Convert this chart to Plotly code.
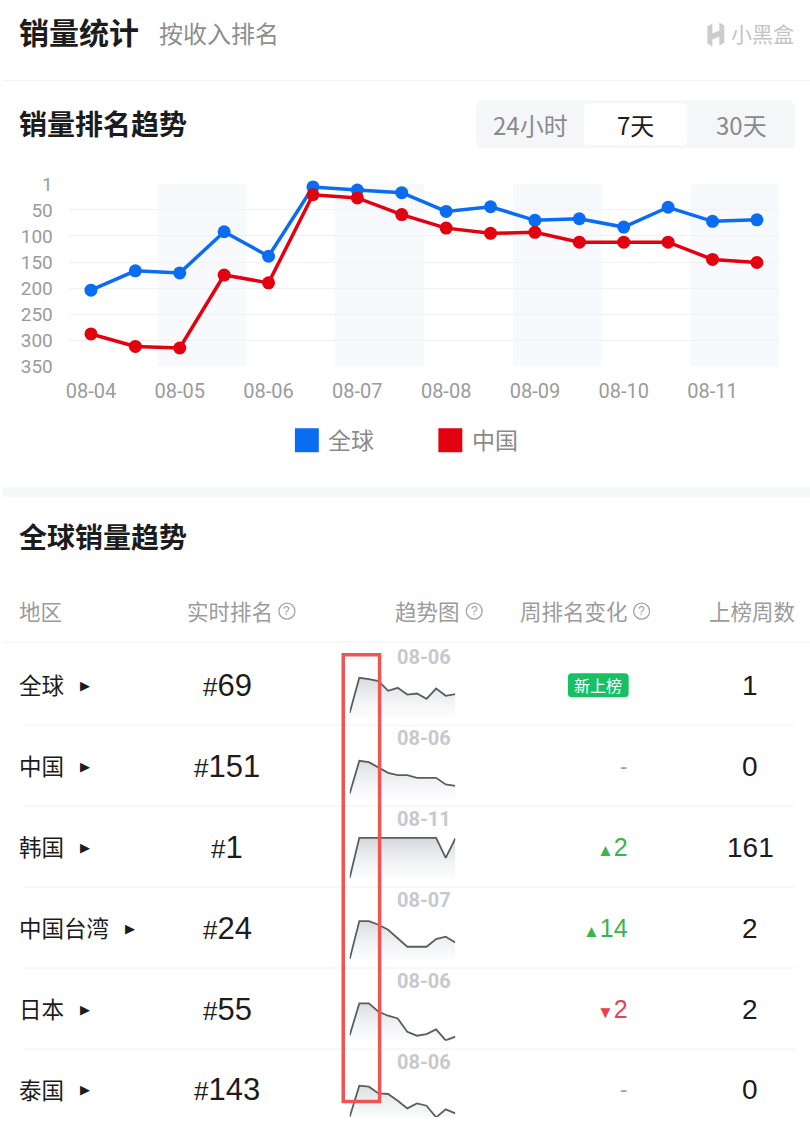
import plotly.graph_objects as go

W, H = 810, 1129
CJK = "Noto Sans CJK SC"
NUM = "Liberation Sans, Arial, sans-serif"
TICK = "Roboto, Noto Sans CJK SC"
BLUE = "#0a6cf0"
RED = "#e3000f"
GREY = "#9b9b9b"
INK = "#1c1c1c"

# ---- 销量排名趋势 (7天, 每半天一个点) ----
slots = [
    "08-04 00时", "08-04 12时", "08-05 00时", "08-05 12时",
    "08-06 00时", "08-06 12时", "08-07 00时", "08-07 12时",
    "08-08 00时", "08-08 12时", "08-09 00时", "08-09 12时",
    "08-10 00时", "08-10 12时", "08-11 00时", "08-11 12时",
]
day_ticks = ["08-04", "08-05", "08-06", "08-07", "08-08", "08-09", "08-10", "08-11"]
global_rank = [204, 167, 171, 92, 139, 6, 12, 17, 53, 44, 70, 67, 83, 45, 72, 69]
china_rank = [288, 312, 315, 175, 190, 21, 27, 59, 85, 95, 93, 112, 112, 112, 145, 151]
rank_ticks = [1, 50, 100, 150, 200, 250, 300, 350]

# ---- 全球销量趋势 表格 ----
regions = ["全球", "中国", "韩国", "中国台湾", "日本", "泰国"]
live_rank = [69, 151, 1, 24, 55, 143]
peak_days = ["08-06", "08-06", "08-11", "08-07", "08-06", "08-06"]
week_change = ["new", None, 2, 14, -2, None]
weeks_listed = [1, 0, 161, 2, 2, 0]

# sparkline heights
trend_global = [4, 39, 37.7, 35.7, 26, 29, 22.3, 23.3, 18, 28.3, 21, 22.7]
trend_china = [4.3, 37, 35.7, 30, 25, 22.7, 22.7, 20, 20, 20, 13.3, 12]
trend_korea = [1, 41, 41, 41, 41, 41, 41, 41, 41, 41, 21, 40.3]
trend_taiwan = [0.7, 38.7, 38.7, 35, 30, 21.5, 13, 13, 13, 20.7, 23, 17.3]
trend_japan = [5.5, 37.3, 37.3, 29, 25, 22.3, 9, 5, 6.7, 11.3, 0.3, 4]
trend_thai = [5, 36, 35, 28.3, 27.7, 21, 13.3, 18.3, 16, 4.3, 12.3, 8.3]
trends = [trend_global, trend_china, trend_korea, trend_taiwan, trend_japan, trend_thai]

# the page photo comes out slightly squeezed vertically; compensate
Y_OFF, Y_SCALE = 10.6, 0.98
Y_MAX = Y_OFF + Y_SCALE * H - 0.05


def px(x):
    return x / W


def py(y):
    return min(1.0, max(0.0, 1 - (y - Y_OFF) / (Y_SCALE * H)))


def label(x, y, text, size, color=INK, anchor="left", family=CJK, weight="normal"):
    return dict(
        x=px(x), y=py(y), xref="paper", yref="paper", text=text,
        showarrow=False, xanchor=anchor, yanchor="middle",
        font=dict(family=family, size=size, color=color, weight=weight),
    )


def rounded(x0, y0, x1, y1, r, fill):
    pts = [
        f"M{px(x0 + r)},{py(y0)}", f"L{px(x1 - r)},{py(y0)}",
        f"Q{px(x1)},{py(y0)} {px(x1)},{py(y0 + r)}", f"L{px(x1)},{py(y1 - r)}",
        f"Q{px(x1)},{py(y1)} {px(x1 - r)},{py(y1)}", f"L{px(x0 + r)},{py(y1)}",
        f"Q{px(x0)},{py(y1)} {px(x0)},{py(y1 - r)}", f"L{px(x0)},{py(y0 + r)}",
        f"Q{px(x0)},{py(y0)} {px(x0 + r)},{py(y0)}", "Z",
    ]
    return dict(type="path", xref="paper", yref="paper", path=" ".join(pts),
                fillcolor=fill, line=dict(width=0), layer="below")


def hline(y, x0=0, x1=W, color="#f0f1f3", width=1):
    return dict(type="line", xref="paper", yref="paper", x0=px(x0), x1=px(x1),
                y0=py(y), y1=py(y), line=dict(color=color, width=width))


fig = go.Figure()

fig.add_trace(go.Scatter(
    x=slots, y=global_rank, mode="lines+markers", name="全球",
    line=dict(color=BLUE, width=3.5), marker=dict(size=13, color=BLUE),
    cliponaxis=False, xaxis="x", yaxis="y",
))
fig.add_trace(go.Scatter(
    x=slots, y=china_rank, mode="lines+markers", name="中国",
    line=dict(color=RED, width=3.5), marker=dict(size=13, color=RED),
    cliponaxis=False, xaxis="x", yaxis="y",
))

row_h = 81
row0 = 685
spark_x0, spark_x1 = 348, 454
spark_h = 45
layout_axes = {}
for i, vals in enumerate(trends):
    n = i + 2
    base = row0 + i * row_h + 31.7
    bottom = min(base, Y_MAX)
    fig.add_trace(go.Scatter(
        x=list(range(len(vals))), y=vals, mode="lines",
        line=dict(color="#5b5d61", width=1.8), fill="tozeroy",
        fillgradient=dict(type="vertical", start=0, stop=42,
                          colorscale=[[0, "rgba(240,241,243,0.2)"], [1, "rgba(206,209,214,0.9)"]]),
        cliponaxis=False, hoverinfo="skip", xaxis=f"x{n}", yaxis=f"y{n}",
    ))
    layout_axes[f"xaxis{n}"] = dict(domain=[px(spark_x0), px(spark_x1)], range=[0, len(vals) - 1],
                                    visible=False, anchor=f"y{n}")
    layout_axes[f"yaxis{n}"] = dict(domain=[py(bottom), py(base - spark_h)],
                                    range=[base - bottom, spark_h],
                                    visible=False, anchor=f"x{n}")

shapes = []
# bands behind every other day
for d in range(1, len(day_ticks), 2):
    shapes.append(dict(type="rect", xref="x", yref="y domain", x0=2 * d - 0.5, x1=2 * d + 1.5,
                       y0=0, y1=1, fillcolor="#f7f9fc", line=dict(width=0), layer="below"))

shapes += [
    hline(80),
    dict(type="rect", xref="paper", yref="paper", x0=0, x1=1, y0=py(497), y1=py(487),
         fillcolor="#f6f7f9", line=dict(width=0)),
    hline(642),
]
for i in range(1, len(regions)):
    shapes.append(hline(row0 - 40 + i * row_h - 1, 20, 795))

# 24小时 / 7天 / 30天 toggle
shapes.append(rounded(475, 100, 795, 148, 8, "#f5f6f8"))
shapes.append(rounded(583, 103, 687, 145, 6, "#ffffff"))

# legend squares
shapes.append(dict(type="rect", xref="paper", yref="paper", x0=px(293), x1=px(317),
                   y0=py(452), y1=py(428), fillcolor=BLUE, line=dict(width=0)))
shapes.append(dict(type="rect", xref="paper", yref="paper", x0=px(437), x1=px(461),
                   y0=py(452), y1=py(428), fillcolor=RED, line=dict(width=0)))

# header help circles
for cx in (285, 473, 641):
    shapes.append(dict(type="circle", xref="paper", yref="paper", x0=px(cx - 8), x1=px(cx + 8),
                       y0=py(619), y1=py(603), line=dict(color="#a5a5a5", width=1.3)))

# logo glyph
shapes.append(dict(type="path", xref="paper", yref="paper",
                   path=f"M{px(707)},{py(26)} L{px(712)},{py(23)} L{px(712)},{py(46)} L{px(707)},{py(43)} Z "
                        f"M{px(719)},{py(22)} L{px(724)},{py(25)} L{px(724)},{py(42)} L{px(719)},{py(45)} Z "
                        f"M{px(712)},{py(33)} L{px(719)},{py(30)} L{px(719)},{py(36)} L{px(712)},{py(39)} Z",
                   fillcolor="#cccccc", line=dict(width=0)))

annotations = [
    label(14, 31, "销量统计", 30, weight="bold"),
    label(155, 32, "按收入排名", 24, color="#8e8e8e"),
    label(729, 33, "小黑盒", 21, color="#c4c4c4"),
    label(14, 123, "销量排名趋势", 28, weight="bold"),
    label(529, 124, "24小时", 24, color="#8a8a8a", anchor="center"),
    label(635, 124, "7天", 24, color=INK, anchor="center"),
    label(741, 124, "30天", 24, color="#8a8a8a", anchor="center"),
    label(324, 439, "全球", 23, color="#8a8a8a"),
    label(469, 439, "中国", 23, color="#8a8a8a"),
    label(14, 536, "全球销量趋势", 28, weight="bold"),
    label(14, 610, "地区", 21.5, color=GREY),
    label(273, 610, "实时排名", 21.5, color=GREY, anchor="right"),
    label(461, 610, "趋势图", 21.5, color=GREY, anchor="right"),
    label(629, 610, "周排名变化", 21.5, color=GREY, anchor="right"),
    label(797, 610, "上榜周数", 21.5, color=GREY, anchor="right"),
]
for cx in (285, 473, 641):
    annotations.append(label(cx, 611, "?", 12, color="#a0a0a0", anchor="center", family=NUM))

for i, name in enumerate(regions):
    yc = row0 + i * row_h
    annotations.append(label(14, yc - 1, name, 22.5))
    annotations.append(label(20 + 22.5 * len(name) + 17, yc, "▶", 13, anchor="center", family="DejaVu Sans"))
    annotations.append(label(225, yc, f"<span style='font-size:26px'>#</span>{live_rank[i]}", 31,
                             anchor="center", family=NUM))
    annotations.append(label(452, yc - 28, peak_days[i], 20, color="#c6c9ce", anchor="right",
                             family=TICK, weight="bold"))
    chg = week_change[i]
    if chg == "new":
        shapes.append(rounded(567, yc - 12, 628, yc + 12, 4, "#17c163"))
        annotations.append(label(597.5, yc, "新上榜", 16, color="#ffffff", anchor="center"))
    elif chg is None:
        annotations.append(label(628, yc, "-", 22, color="#a0a0a0", anchor="right", family=NUM))
    elif chg > 0:
        annotations.append(label(629, yc, f"<span style='font-size:17px'>▲</span>{chg}", 25,
                                 color="#3cb44b", anchor="right", family=NUM))
    else:
        annotations.append(label(629, yc, f"<span style='font-size:17px'>▼</span>{-chg}", 25,
                                 color="#e9424d", anchor="right", family=NUM))
    annotations.append(label(750, yc, str(weeks_listed[i]), 28, anchor="center", family=NUM))

# highlight box over the sparklines
shapes.append(dict(type="rect", xref="paper", yref="paper", x0=px(341.5), x1=px(378),
                   y0=py(1101.5), y1=py(654.5), line=dict(color="#f05454", width=3.5), layer="above"))

fig.update_layout(
    width=W, height=H,
    margin=dict(l=0, r=0, t=0, b=0),
    paper_bgcolor="white", plot_bgcolor="white",
    showlegend=False,
    font=dict(family=CJK),
    xaxis=dict(
        domain=[px(66), px(779)], type="category", range=[-0.5, len(slots) - 0.5],
        tickvals=slots[::2], ticktext=day_ticks, showgrid=False, zeroline=False,
        showline=False, ticks="", ticklabelstandoff=11,
        tickfont=dict(family=TICK, size=20, color=GREY), fixedrange=True,
    ),
    yaxis=dict(
        domain=[py(366), py(184)], range=[350, 1], tickvals=rank_ticks,
        showgrid=True, gridcolor="#f0f1f3", gridwidth=1, zeroline=False,
        showline=False, ticks="", ticklabelstandoff=15,
        tickfont=dict(family=TICK, size=19, color=GREY), fixedrange=True,
    ),
    shapes=shapes,
    annotations=annotations,
    **layout_axes,
)

fig.write_html(
    "out.html",
    config={"displayModeBar": False},
    post_script="document.body.style.margin='0';document.body.style.overflow='hidden';",
)
